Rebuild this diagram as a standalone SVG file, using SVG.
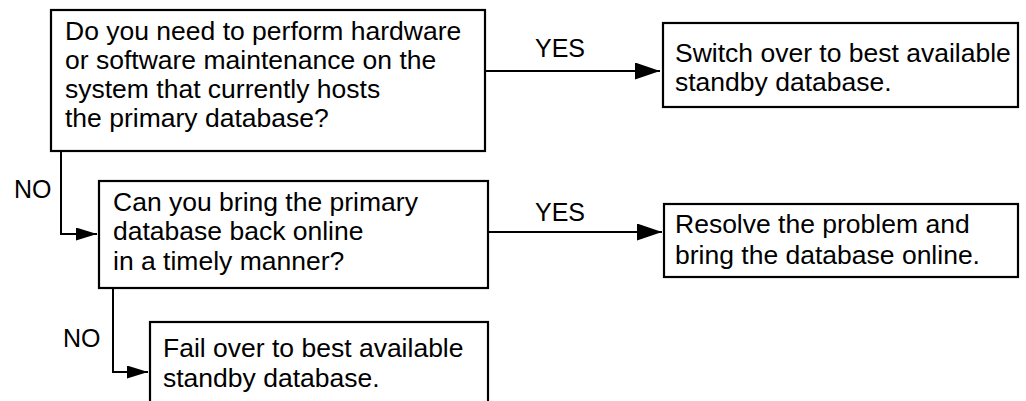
<svg xmlns="http://www.w3.org/2000/svg" width="1026" height="401" viewBox="0 0 1026 401">
  <style>
    .box { fill: #ffffff; stroke: #000000; stroke-width: 2.2; }
    .txt { font-family: "Liberation Sans", Arial, Helvetica, sans-serif; font-size: 26.5px; fill: #000000; }
    .lbl { font-family: "Liberation Sans", Arial, Helvetica, sans-serif; font-size: 25px; fill: #000000; }
    .conn { fill: none; stroke: #000000; stroke-width: 2; }
  </style>
  <defs>
    <marker id="arrowBig" markerUnits="userSpaceOnUse" markerWidth="26" markerHeight="18" refX="25" refY="8.5" orient="auto">
      <path d="M0,0 L25,8.5 L0,17 z" fill="#000000"/>
    </marker>
    <marker id="arrowSmall" markerUnits="userSpaceOnUse" markerWidth="22" markerHeight="14" refX="21" refY="6.5" orient="auto">
      <path d="M0,0 L21,6.5 L0,13 z" fill="#000000"/>
    </marker>
  </defs>
  <rect width="1026" height="401" fill="#ffffff"/>

  <g id="connectors">
    <line class="conn" x1="486" y1="71" x2="660" y2="71" marker-end="url(#arrowBig)"/>
    <line class="conn" x1="489" y1="232" x2="662" y2="232" marker-end="url(#arrowBig)"/>
    <polyline class="conn" points="61,151 61,234 97,234" marker-end="url(#arrowSmall)"/>
    <polyline class="conn" points="113,288 113,372 148,372" marker-end="url(#arrowSmall)"/>
    <text class="lbl" x="535" y="57">YES</text>
    <text class="lbl" x="535" y="221">YES</text>
    <text class="lbl" x="14" y="198">NO</text>
    <text class="lbl" x="63" y="347">NO</text>
  </g>

  <g id="q1">
    <rect class="box" x="51" y="10" width="434" height="141"/>
    <text class="txt" x="65" y="40">Do you need to perform hardware</text>
    <text class="txt" x="65" y="69">or software maintenance on the</text>
    <text class="txt" x="65" y="98">system that currently hosts</text>
    <text class="txt" x="65" y="127">the primary database?</text>
  </g>

  <g id="switchover">
    <rect class="box" x="663" y="23" width="355" height="84"/>
    <text class="txt" x="675" y="62">Switch over to best available</text>
    <text class="txt" x="675" y="91">standby database.</text>
  </g>

  <g id="q2">
    <rect class="box" x="99" y="181" width="389" height="107"/>
    <text class="txt" x="113" y="211">Can you bring the primary</text>
    <text class="txt" x="113" y="240">database back online</text>
    <text class="txt" x="113" y="270">in a timely manner?</text>
  </g>

  <g id="resolve">
    <rect class="box" x="664" y="204" width="354" height="73"/>
    <text class="txt" x="675" y="233">Resolve the problem and</text>
    <text class="txt" x="675" y="264">bring the database online.</text>
  </g>

  <g id="failover">
    <rect class="box" x="150" y="322" width="338" height="90"/>
    <text class="txt" x="163" y="357">Fail over to best available</text>
    <text class="txt" x="163" y="387">standby database.</text>
  </g>
</svg>
